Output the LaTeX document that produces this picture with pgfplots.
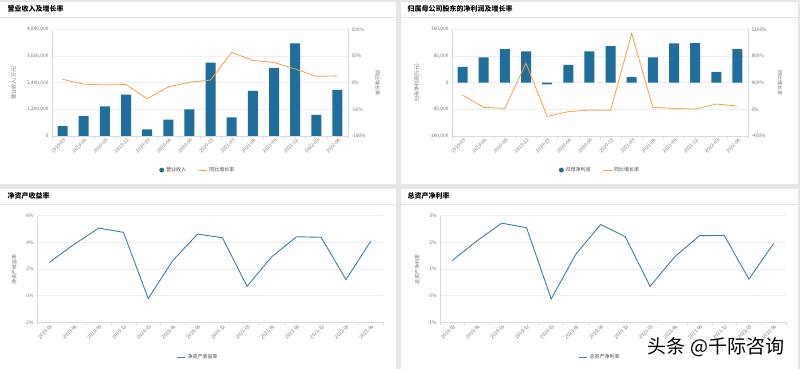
\documentclass[border=0pt]{standalone}
\usepackage{fontspec}
\setmainfont{Noto Sans CJK SC}
\usepackage{pgfplots}
\pgfplotsset{compat=1.18}
\definecolor{bg}{HTML}{E6E6E6}
\definecolor{barblue}{HTML}{1F6E9C}
\definecolor{lineorange}{HTML}{F2A144}
\definecolor{roeblue}{HTML}{3C7EA6}
\definecolor{gridgray}{HTML}{EEEEEE}
\definecolor{axisgray}{HTML}{D3DCE6}
\definecolor{tickgray}{HTML}{707070}
\definecolor{sepgray}{HTML}{E4E4E4}
\definecolor{legtext}{HTML}{444444}

\pgfplotsset{
  base/.style={
    scale only axis, anchor=south west,
    xmin=-0.5, xmax=13.5,
    xtick={0,...,13},
    xticklabels={2019-03,2019-06,2019-09,2019-12,2020-03,2020-06,2020-09,2020-12,2021-03,2021-06,2021-09,2021-12,2022-03,2022-06},
    minor xtick={-0.5,0.5,...,13.5},
    major tick length=0pt,
    minor tick length=3pt,
    every minor tick/.append style={axisgray, line width=0.5pt},
    tick align=outside,
    ytick style={draw=none},
    scaled y ticks=false, scaled x ticks=false,
    axis line style={axisgray, line width=0.6pt},
    ymajorgrids, grid style={gridgray, line width=0.5pt},
    tick label style={font=\fontsize{4.8}{5.5}\selectfont, text=tickgray},
    xticklabel style={rotate=45, anchor=north east, inner sep=1pt, yshift=-1pt},
    label style={font=\fontsize{5}{6}\selectfont, text=tickgray},
    legend columns=2,
    legend style={draw=none, fill=none, anchor=center, font=\fontsize{5}{6}\selectfont, text=legtext,
      /tikz/every even column/.append style={column sep=10pt}},
    /pgf/number format/assume math mode=true,
  },
  dot/.style={legend image code/.code={\fill[barblue] (0.15cm,0) circle (2.2pt);}},
  seg/.style={legend image code/.code={\draw[#1, line width=0.8pt] (0,0)--(0.3cm,0);}},
}

\begin{document}
\begin{tikzpicture}[x=1pt,y=1pt]
\fill[bg] (0,0) rectangle (800,369);
\fill[white] (0,185) rectangle (396,367);
\fill[white] (401,185) rectangle (798,367);
\fill[white] (0,0) rectangle (396,180);
\fill[white] (401,0) rectangle (798,180);
\draw[sepgray, line width=0.8pt] (0,352) -- (396,352) (401,352) -- (798,352) (0,165) -- (396,165) (401,165) -- (798,165);
\node[anchor=west, font=\fontsize{7}{8}\selectfont\bfseries] at (4,360) {营业收入及增长率};
\node[anchor=west, font=\fontsize{7}{8}\selectfont\bfseries] at (404,360) {归属母公司股东的净利润及增长率};
\node[anchor=west, font=\fontsize{7}{8}\selectfont\bfseries] at (4,173) {净资产收益率};
\node[anchor=west, font=\fontsize{7}{8}\selectfont\bfseries] at (404,173) {总资产净利率};

% Top-left
\begin{axis}[base, at={(52pt,233pt)}, width=296pt, height=106.5pt,
  axis y line*=left, axis x line*=bottom,
  ymin=0, ymax=4800000, ytick={0,1200000,2400000,3600000,4800000},
  yticklabels={0,{1,200,000},{2,400,000},{3,600,000},{4,800,000}},
  ylabel={营业收入(万元)}, ylabel style={at={(axis description cs:-0.128,0.5)}, anchor=center}]
\addplot[ybar, bar width=10pt, bar shift=0pt, fill=barblue, draw=none] coordinates {
(0,440000) (1,900000) (2,1340000) (3,1860000) (4,300000) (5,740000) (6,1200000)
(7,3310000) (8,840000) (9,2030000) (10,3070000) (11,4170000) (12,950000) (13,2080000)};
\end{axis}
\begin{axis}[base, at={(52pt,233pt)}, width=296pt, height=106.5pt,
  axis y line*=right, axis x line=none, ymajorgrids=false, xtick=\empty, minor xtick=\empty,
  ymin=-100, ymax=100, ytick={-100,-50,0,50,100},
  yticklabels={-100\%,-50\%,0\%,50\%,100\%},
  ylabel={同比增长率}, ylabel style={at={(axis description cs:1.10,0.5)}, anchor=center, rotate=180},
  legend style={at={(0.493,-0.32)}}]
\addlegendimage{dot}
\addlegendentry{营业收入}
\addplot[lineorange, line width=0.8pt, seg=lineorange] coordinates {
(0,6.6) (1,-2.8) (2,-4) (3,-3.4) (4,-30) (5,-8) (6,1) (7,5) (8,57) (9,42) (10,38) (11,26) (12,12) (13,13)};
\addlegendentry{同比增长率}
\end{axis}

% Top-right
\begin{axis}[base, at={(452pt,233pt)}, width=296pt, height=106.5pt,
  axis y line*=left, axis x line*=bottom,
  ymin=-160000, ymax=160000, ytick={-160000,-80000,0,80000,160000},
  yticklabels={{-160,000},{-80,000},0,{80,000},{160,000}},
  ylabel={归母净利润(万元)}, ylabel style={at={(axis description cs:-0.118,0.5)}, anchor=center}]
\addplot[ybar, bar width=10pt, bar shift=0pt, fill=barblue, draw=none] coordinates {
(0,48000) (1,76000) (2,101000) (3,94000) (4,-5000) (5,54000) (6,94000)
(7,110000) (8,17000) (9,76000) (10,118000) (11,119000) (12,33000) (13,101000)};
\end{axis}
\begin{axis}[base, at={(452pt,233pt)}, width=296pt, height=106.5pt,
  axis y line*=right, axis x line=none, ymajorgrids=false, xtick=\empty, minor xtick=\empty,
  ymin=-400, ymax=1200, ytick={-400,0,400,800,1200},
  yticklabels={-400\%,0\%,400\%,800\%,1200\%},
  ylabel={同比增长率}, ylabel style={at={(axis description cs:1.108,0.5)}, anchor=center, rotate=180},
  legend style={at={(0.5,-0.32)}}]
\addlegendimage{dot}
\addlegendentry{归母净利润}
\addplot[lineorange, line width=0.8pt, seg=lineorange] coordinates {
(0,215) (1,30) (2,15) (3,695) (4,-105) (5,-35) (6,-10) (7,-15) (8,1140) (9,30) (10,15) (11,5) (12,80) (13,50)};
\addlegendentry{同比增长率}
\end{axis}

% Bottom-left
\begin{axis}[base, at={(37pt,46.7pt)}, width=346pt, height=106.6pt,
  axis y line*=left, axis x line*=bottom,
  ymin=-2, ymax=6, ytick={-2,0,2,4,6},
  yticklabels={-2\%,0\%,2\%,4\%,6\%},
  ylabel={净资产收益率}, ylabel style={at={(axis description cs:-0.066,0.5)}, anchor=center},
  legend style={at={(0.465,-0.326)}}]
\addplot[roeblue, line width=0.9pt, seg=roeblue] coordinates {
(0,2.5) (1,3.85) (2,5.07) (3,4.75) (4,-0.22) (5,2.65) (6,4.62) (7,4.35) (8,0.7) (9,2.92) (10,4.42) (11,4.38) (12,1.2) (13,4.07)};
\addlegendentry{净资产收益率}
\end{axis}

% Bottom-right
\begin{axis}[base, at={(440pt,46.7pt)}, width=346pt, height=106.6pt,
  axis y line*=left, axis x line*=bottom,
  ymin=-1, ymax=3, ytick={-1,0,1,2,3},
  yticklabels={-1\%,0\%,1\%,2\%,3\%},
  ylabel={总资产净利率}, ylabel style={at={(axis description cs:-0.066,0.5)}, anchor=center},
  legend style={at={(0.462,-0.326)}}]
\addplot[roeblue, line width=0.9pt, seg=roeblue] coordinates {
(0,1.32) (1,2.06) (2,2.72) (3,2.55) (4,-0.12) (5,1.56) (6,2.67) (7,2.21) (8,0.35) (9,1.46) (10,2.25) (11,2.26) (12,0.62) (13,1.96)};
\addlegendentry{总资产净利率}
\end{axis}

\node[font=\fontsize{19}{20}\selectfont] at (716,21.5) {头条 @千际咨询};
\pgfresetboundingbox
\useasboundingbox (0,0) rectangle (800,369);
\end{tikzpicture}
\end{document}
